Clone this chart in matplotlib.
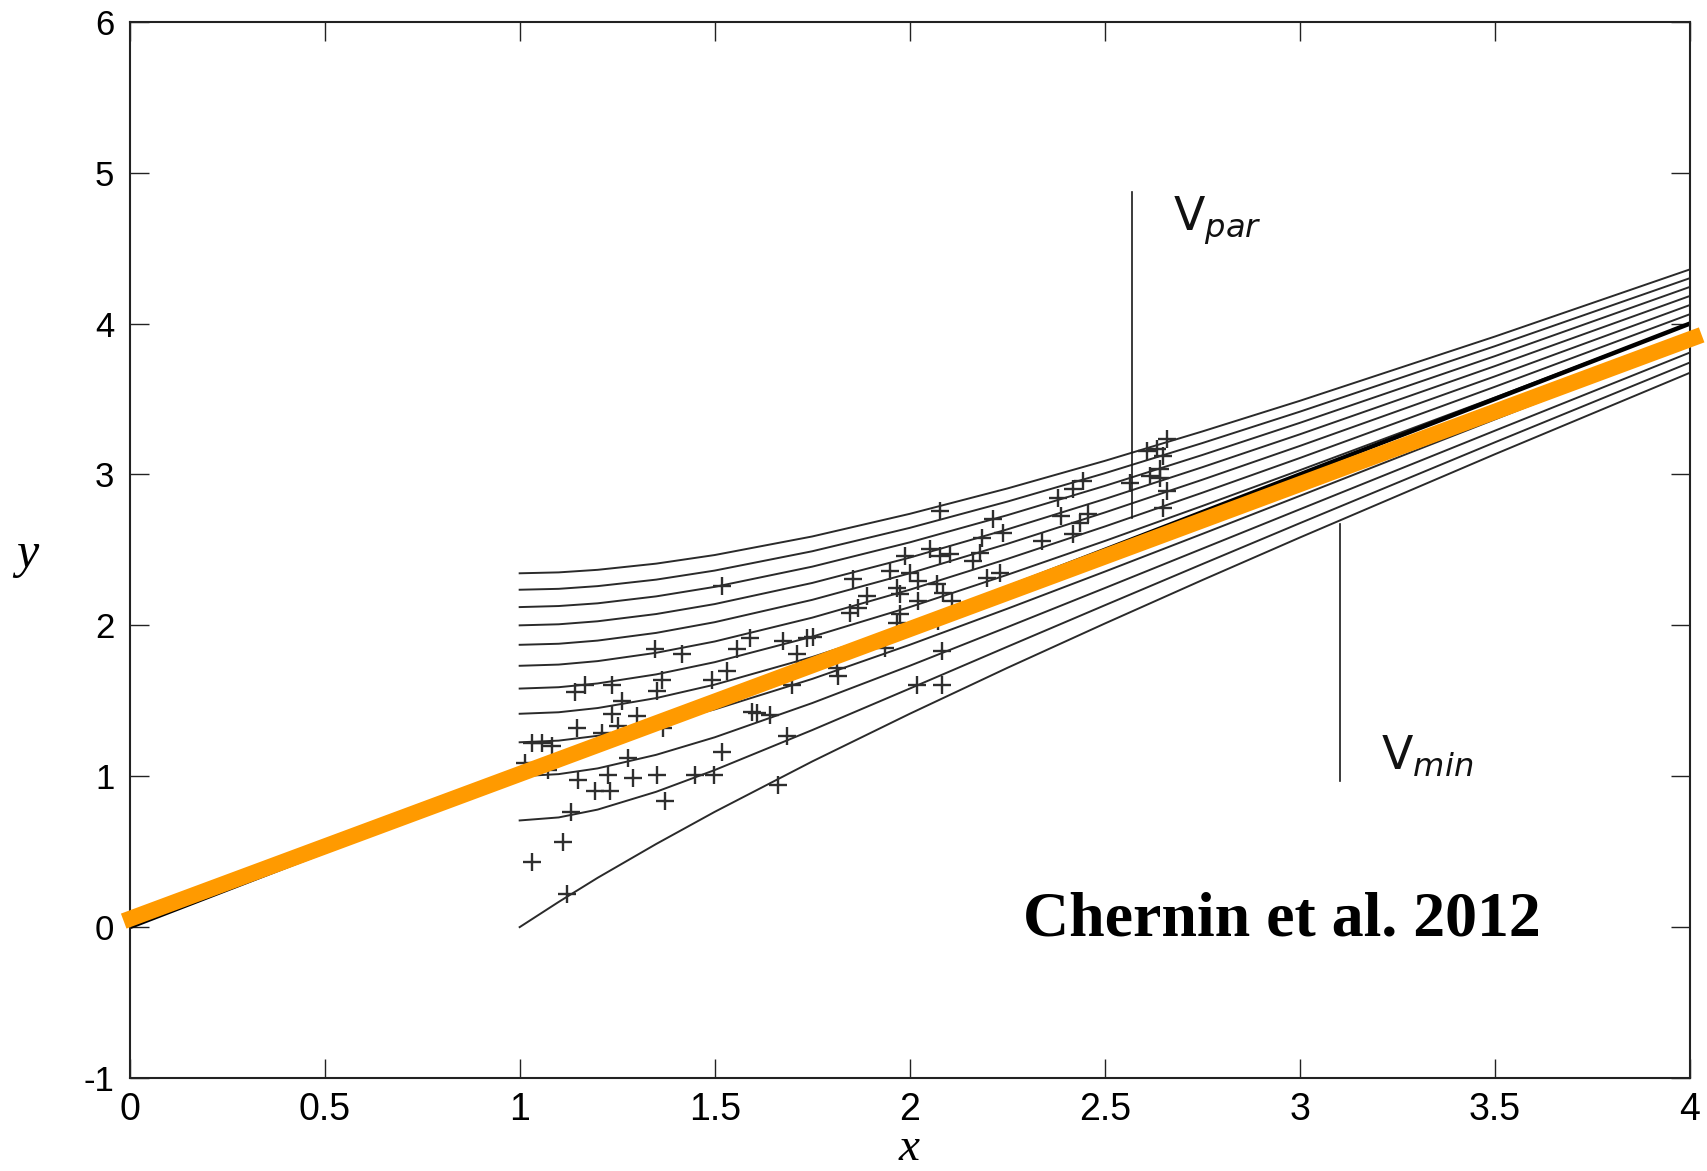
import matplotlib
matplotlib.use("Agg")
import matplotlib.pyplot as plt

# Sample positions along x where each flow trajectory was read
track_x = [1.0, 1.1, 1.2, 1.35, 1.5, 1.75, 2.0, 2.25, 2.5, 2.75, 3.0, 3.5, 4.0]

# Trajectories y(x), from the highest starting velocity down to V_min
track_01 = [2.345, 2.351, 2.368, 2.409, 2.466, 2.589, 2.739, 2.907, 3.090, 3.285, 3.488, 3.914, 4.359]
track_02 = [2.236, 2.242, 2.260, 2.303, 2.363, 2.491, 2.646, 2.820, 3.008, 3.208, 3.416, 3.850, 4.301]
track_03 = [2.121, 2.128, 2.146, 2.192, 2.255, 2.389, 2.550, 2.730, 2.924, 3.129, 3.342, 3.784, 4.243]
track_04 = [2.000, 2.007, 2.027, 2.075, 2.141, 2.281, 2.449, 2.636, 2.837, 3.048, 3.266, 3.718, 4.183]
track_05 = [1.871, 1.878, 1.899, 1.950, 2.021, 2.169, 2.345, 2.540, 2.748, 2.965, 3.189, 3.650, 4.123]
track_06 = [1.732, 1.740, 1.763, 1.818, 1.893, 2.051, 2.236, 2.440, 2.655, 2.879, 3.109, 3.581, 4.062]
track_07 = [1.581, 1.590, 1.615, 1.675, 1.756, 1.925, 2.121, 2.335, 2.559, 2.791, 3.028, 3.510, 4.000]
track_08 = [1.414, 1.424, 1.452, 1.518, 1.607, 1.790, 2.000, 2.225, 2.460, 2.700, 2.944, 3.438, 3.937]
track_09 = [1.225, 1.236, 1.268, 1.343, 1.443, 1.645, 1.871, 2.110, 2.356, 2.606, 2.858, 3.365, 3.873]
track_10 = [1.000, 1.014, 1.052, 1.142, 1.258, 1.485, 1.732, 1.988, 2.247, 2.508, 2.769, 3.290, 3.808]
track_11 = [0.707, 0.727, 0.779, 0.897, 1.041, 1.306, 1.581, 1.858, 2.133, 2.406, 2.677, 3.213, 3.742]
track_12 = [0.000, 0.167, 0.327, 0.551, 0.764, 1.098, 1.414, 1.718, 2.012, 2.300, 2.582, 3.134, 3.674]

# Observed galaxies
galaxy_x = [1.518, 1.347, 1.415, 1.591, 1.557, 1.676, 1.736, 1.710, 1.531, 1.493,
            1.364, 1.352, 1.236, 1.168, 1.142, 1.262, 1.236, 1.300, 1.146, 1.253,
            1.367, 1.211, 1.057, 1.082, 1.031, 1.014, 1.697, 1.608, 1.642, 1.595,
            1.685, 1.518, 1.279, 1.150, 1.227, 1.291, 1.352, 1.449, 1.497, 1.194,
            1.232, 1.373, 1.131, 1.112, 1.031, 1.121, 1.663, 1.073,
            2.078, 2.214, 2.240, 2.184, 2.180, 2.163, 2.103, 2.078, 2.052, 1.988,
            1.950, 2.001, 1.855, 1.967, 1.975, 2.022, 1.890, 2.022, 2.069, 2.086,
            2.108, 1.847, 1.868, 1.975, 1.967, 1.753, 1.937, 2.082, 1.813, 1.817,
            2.018, 2.082, 2.073, 2.198, 2.231, 2.418, 2.339, 2.387, 2.457, 2.436,
            2.380, 2.418, 2.445, 2.565, 2.616, 2.642, 2.659, 2.633, 2.607, 2.648,
            2.642, 2.659, 2.650]
galaxy_y = [2.260, 1.840, 1.811, 1.913, 1.840, 1.895, 1.917, 1.807, 1.696, 1.641,
            1.641, 1.563, 1.607, 1.603, 1.559, 1.497, 1.413, 1.397, 1.319, 1.331,
            1.319, 1.286, 1.220, 1.198, 1.220, 1.087, 1.607, 1.419, 1.408, 1.426,
            1.264, 1.160, 1.120, 0.977, 1.010, 0.987, 1.010, 1.010, 1.010, 0.904,
            0.899, 0.837, 0.766, 0.567, 0.434, 0.217, 0.944, 1.043,
            2.758, 2.703, 2.614, 2.581, 2.481, 2.426, 2.471, 2.459, 2.504, 2.459,
            2.360, 2.349, 2.305, 2.249, 2.205, 2.293, 2.194, 2.160, 2.271, 2.216,
            2.160, 2.083, 2.116, 2.072, 2.017, 1.922, 1.851, 1.829, 1.718, 1.663,
            1.607, 1.607, 2.028, 2.316, 2.349, 2.603, 2.559, 2.725, 2.736, 2.681,
            2.847, 2.902, 2.957, 2.946, 2.991, 2.979, 3.234, 3.168, 3.157, 3.124,
            3.035, 2.891, 2.780]

# Linear Hubble law and the fitted line
hubble_x = [0.0, 4.0]
hubble_y = [0.0, 4.0]
fit_x = [-0.015, 4.03]
fit_y = [0.04, 3.925]

# Marker lines for the parabolic and minimum velocities
vpar_x = 2.571
vpar_y = [2.71, 4.87]
vmin_x = 3.104
vmin_y = [0.97, 2.67]

x_ticks = [0, 0.5, 1, 1.5, 2, 2.5, 3, 3.5, 4]
x_tick_labels = ["0", "0.5", "1", "1.5", "2", "2.5", "3", "3.5", "4"]
y_ticks = [-1, 0, 1, 2, 3, 4, 5, 6]
y_tick_labels = ["-1", "0", "1", "2", "3", "4", "5", "6"]

fig = plt.figure(figsize=(17.07, 11.71), dpi=100)
ax = fig.add_axes([0.0759, 0.0794, 0.9141, 0.902])

tracks = [track_01, track_02, track_03, track_04, track_05, track_06,
          track_07, track_08, track_09, track_10, track_11, track_12]
for tr in tracks:
    ax.plot(track_x, tr, color="#2a2a2a", lw=1.4, solid_joinstyle="round")

ax.plot(galaxy_x, galaxy_y, linestyle="none", marker="+", markersize=13,
        markeredgewidth=1.7, color="#2e2e2e")

ax.plot(hubble_x, hubble_y, color="black", lw=3.2, solid_capstyle="butt")

ax.plot([vpar_x, vpar_x], vpar_y, color="#1a1a1a", lw=1.2)
ax.plot([vmin_x, vmin_x], vmin_y, color="#1a1a1a", lw=1.2)

ax.plot(fit_x, fit_y, color="#FF9A00", lw=11.5, solid_capstyle="butt",
        clip_on=False, zorder=5)

ax.text(2.674, 4.62, r"$\mathrm{V}_{par}$", fontsize=33, color="#111111",
        ha="left", va="baseline")
ax.text(3.207, 1.046, r"$\mathrm{V}_{min}$", fontsize=33, color="#111111",
        ha="left", va="baseline")

ax.text(2.29, -0.057, "Chernin et al. 2012", fontsize=46, fontweight="bold",
        family="Liberation Serif", color="black", ha="left", va="baseline")

ax.set_xlim(0, 4)
ax.set_ylim(-1, 6)
ax.set_xticks(x_ticks)
ax.set_xticklabels(x_tick_labels, family="Liberation Sans", fontsize=27)
ax.set_yticks(y_ticks)
ax.set_yticklabels(y_tick_labels, family="Liberation Sans", fontsize=25)
ax.tick_params(direction="in", length=14, width=1.0, top=True, right=True,
               color="#222222")
ax.tick_params(axis="x", pad=10)
ax.tick_params(axis="y", pad=11)
for sp in ax.spines.values():
    sp.set_linewidth(1.5)
    sp.set_color("#222222")

fig.text(0.0158, 0.526, "y", fontsize=36, family="Liberation Serif",
         style="italic", ha="center", va="center")
fig.text(0.5325, 0.001, "x", fontsize=34, family="Liberation Serif",
         style="italic", ha="center", va="bottom")

fig.savefig("out.png", dpi=100, facecolor="white")
